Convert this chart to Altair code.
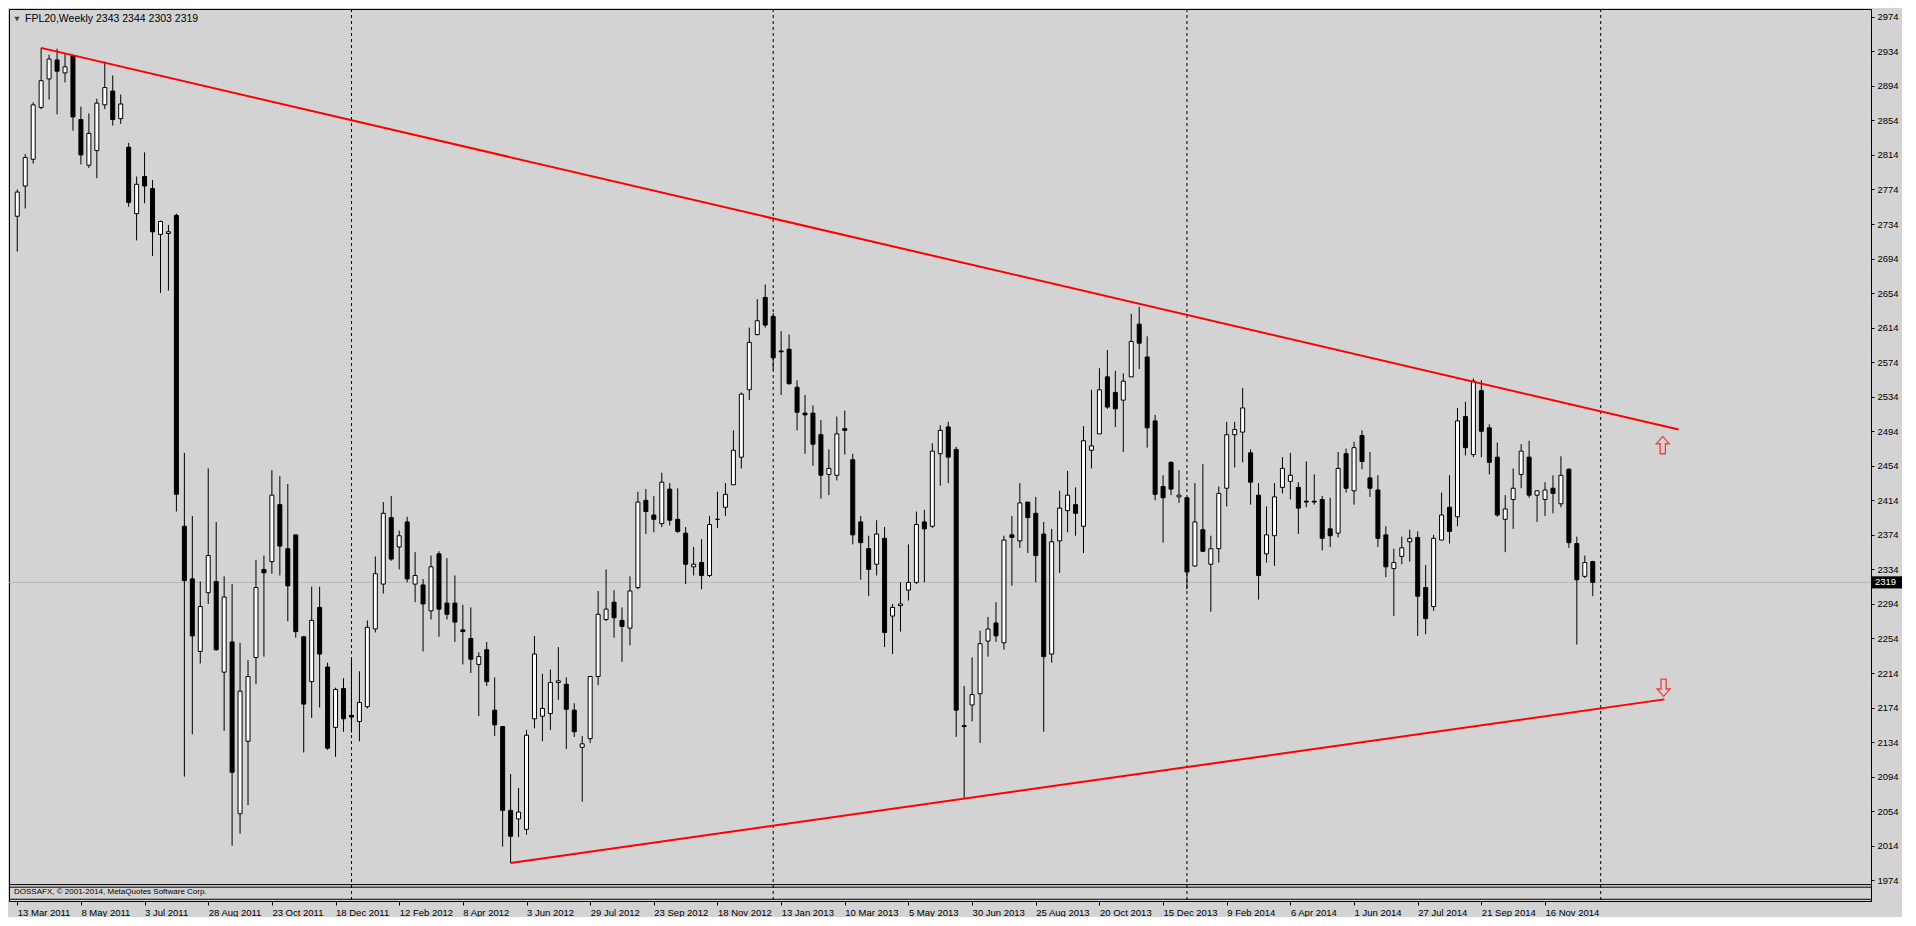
import altair as alt
import pandas as pd
import numpy as np

# Weekly OHLC, 13 Mar 2011 .. 28 Dec 2014
opens = [2743,2778,2809,2869,2902,2924,2909,2929,2855,2802,2819,2872,2888,2856,2823,2746,2789,2775,2722,2723,
         2744,2384,2323,2239,2307,2320,2215,2250,2051,2135,2232,2334,2343,2409,2358,2374,2256,2204,2290,2221,
         2151,2196,2165,2158,2175,2265,2317,2394,2360,2389,2317,2316,2286,2352,2295,2295,2264,2254,2224,2241,
         2171,2152,2055,2045,2033,2161,2164,2167,2203,2201,2171,2128,2138,2210,2276,2296,2275,2266,2313,2414,
         2397,2387,2427,2392,2376,2337,2342,2327,2392,2406,2432,2464,2542,2606,2649,2627,2587,2589,2545,2515,
         2515,2490,2444,2443,2497,2461,2389,2358,2340,2370,2280,2292,2310,2319,2389,2384,2468,2499,2473,2153,
         2177,2190,2251,2272,2249,2374,2367,2412,2399,2375,2236,2367,2402,2409,2384,2472,2491,2557,2539,2530,
         2557,2618,2580,2506,2430,2458,2418,2417,2338,2380,2340,2358,2428,2490,2493,2469,2420,2352,2373,2429,
         2436,2429,2413,2413,2415,2381,2376,2468,2425,2489,2440,2426,2374,2335,2349,2366,2371,2313,2291,2368,
         2406,2395,2511,2467,2541,2498,2464,2392,2415,2444,2464,2420,2415,2428,2410,2450,2364,2326,2343]
highs = [2774,2815,2875,2938,2930,2937,2932,2930,2870,2862,2879,2922,2906,2884,2828,2789,2817,2785,2738,2733,
         2746,2469,2396,2320,2451,2389,2326,2317,2249,2229,2345,2350,2449,2442,2433,2374,2257,2314,2314,2226,
         2197,2208,2231,2216,2275,2349,2412,2419,2379,2395,2354,2323,2350,2355,2347,2327,2293,2290,2238,2250,
         2209,2152,2097,2081,2148,2257,2213,2218,2244,2209,2179,2141,2210,2309,2334,2310,2290,2326,2424,2427,
         2419,2446,2434,2428,2383,2360,2369,2396,2424,2434,2495,2539,2614,2647,2664,2631,2610,2606,2553,2536,
         2524,2507,2473,2511,2518,2468,2396,2373,2391,2383,2294,2319,2363,2401,2403,2480,2501,2505,2476,2199,
         2232,2263,2279,2296,2373,2396,2434,2412,2418,2389,2381,2425,2448,2429,2500,2542,2567,2588,2564,2561,
         2630,2638,2604,2513,2443,2459,2449,2417,2434,2456,2373,2430,2505,2505,2544,2473,2434,2407,2434,2464,
         2469,2435,2459,2444,2419,2417,2470,2474,2482,2495,2470,2443,2384,2358,2372,2380,2378,2339,2374,2423,
         2443,2521,2528,2555,2553,2502,2481,2420,2451,2479,2483,2425,2435,2443,2465,2451,2372,2350,2344]
lows = [2702,2752,2804,2867,2878,2861,2898,2842,2803,2799,2787,2867,2848,2850,2754,2715,2758,2697,2654,2657,
        2401,2094,2143,2225,2294,2240,2147,2014,2028,2061,2201,2233,2329,2327,2274,2255,2122,2162,2174,2125,
        2117,2146,2145,2135,2173,2261,2306,2344,2334,2319,2296,2239,2276,2256,2276,2250,2224,2214,2164,2199,
        2141,2013,1994,2024,2027,2150,2135,2148,2183,2126,2140,2065,2133,2200,2274,2255,2227,2246,2311,2375,
        2377,2383,2385,2376,2317,2327,2311,2325,2382,2396,2432,2451,2530,2605,2614,2565,2536,2548,2495,2468,
        2454,2416,2420,2437,2467,2363,2322,2303,2327,2244,2236,2262,2298,2317,2319,2382,2431,2434,2140,2069,
        2158,2133,2233,2250,2241,2315,2359,2353,2319,2146,2226,2330,2377,2373,2353,2451,2491,2520,2499,2470,
        2557,2566,2475,2414,2365,2420,2411,2311,2337,2354,2285,2342,2407,2452,2458,2409,2299,2342,2338,2422,
        2415,2375,2406,2409,2356,2360,2371,2423,2409,2450,2418,2360,2325,2280,2340,2343,2257,2259,2286,2368,
        2364,2384,2466,2464,2464,2444,2395,2354,2381,2428,2417,2389,2396,2399,2406,2359,2247,2324,2303]
closes = [2771,2811,2872,2900,2925,2911,2916,2858,2814,2839,2874,2892,2855,2873,2759,2780,2778,2725,2737,2725,
          2421,2321,2257,2291,2350,2241,2302,2099,2193,2210,2313,2330,2420,2361,2315,2262,2178,2275,2236,2127,
          2195,2161,2163,2180,2267,2329,2399,2346,2373,2323,2327,2294,2337,2288,2282,2273,2262,2230,2233,2204,
          2154,2055,2025,2053,2142,2236,2173,2203,2205,2172,2146,2132,2210,2282,2288,2278,2268,2309,2412,2401,
          2392,2435,2391,2378,2340,2340,2327,2386,2392,2421,2472,2537,2597,2622,2617,2579,2586,2549,2516,2513,
          2479,2443,2451,2491,2495,2374,2365,2334,2375,2261,2290,2294,2319,2386,2381,2471,2495,2464,2171,2152,
          2189,2248,2265,2257,2368,2371,2411,2394,2350,2233,2366,2405,2420,2399,2483,2477,2542,2522,2520,2552,
          2598,2596,2498,2421,2417,2427,2420,2331,2389,2355,2358,2422,2490,2496,2521,2435,2327,2374,2418,2451,
          2443,2405,2412,2412,2370,2373,2451,2428,2475,2459,2428,2370,2337,2342,2359,2370,2303,2277,2370,2397,
          2378,2506,2475,2552,2494,2458,2397,2404,2428,2471,2420,2425,2426,2422,2443,2365,2322,2342,2319]

date_labels = ["13 Mar 2011", "8 May 2011", "3 Jul 2011", "28 Aug 2011", "23 Oct 2011", "18 Dec 2011",
               "12 Feb 2012", "8 Apr 2012", "3 Jun 2012", "29 Jul 2012", "23 Sep 2012", "18 Nov 2012",
               "13 Jan 2013", "10 Mar 2013", "5 May 2013", "30 Jun 2013", "25 Aug 2013", "20 Oct 2013",
               "15 Dec 2013", "9 Feb 2014", "6 Apr 2014", "1 Jun 2014", "27 Jul 2014", "21 Sep 2014",
               "16 Nov 2014"]
date_positions = [8 * k for k in range(len(date_labels))]
price_ticks = list(range(1974, 2975, 40))
separators = [42, 95, 147, 199]

trend_i = [3, 208.8, 62, 207]
trend_p = [2938, 2496, 1994, 2183.5]
trend_g = ["upper", "upper", "lower", "lower"]

arrow_up = (206.8, 2478)
arrow_dn = (206.9, 2197)
last_price = 2319

W, H = 1862, 892
BG = "#D3D3D3"
FONT = "Liberation Sans"

n = len(opens)
df = pd.DataFrame({"i": np.arange(n), "open": opens, "high": highs, "low": lows, "close": closes})
df["dir"] = np.where(df["close"] >= df["open"], "up", "down")

xs = alt.Scale(domain=[-0.41, -0.41 + W / 8.0], zero=False, nice=False)
ys = alt.Scale(domain=[1950, 2983], zero=False, nice=False)

label_arr = "[" + ",".join("'%s'" % s for s in date_labels) + "]"
xax = alt.Axis(values=date_positions, labelExpr=label_arr + "[round(datum.value/8)]",
               labelAlign="left", labelPadding=2, tickSize=4, tickColor="black",
               domainColor="black", labelFont=FONT, labelFontSize=9.5, labelColor="black",
               grid=False, title=None, labelFlush=False, labelOverlap=False)
yax = alt.Axis(orient="right", values=price_ticks, tickSize=3, tickColor="black",
               domainColor="black", labelFont=FONT, labelFontSize=9.5, labelColor="black",
               labelPadding=3, grid=False, title=None, format="d")


def X(f):
    return alt.X(f, type="quantitative", scale=xs, axis=xax)


def Y(f):
    return alt.Y(f, type="quantitative", scale=ys, axis=yax)


base = alt.Chart(df)

sep_df = pd.DataFrame({"i": separators})
seps = alt.Chart(sep_df).mark_rule(color="black", strokeDash=[3, 3], strokeWidth=1).encode(x=X("i"))

pl_df = pd.DataFrame({"p": [last_price]})
pline = alt.Chart(pl_df).mark_rule(color="#B5B5B5", strokeWidth=1).encode(y=Y("p"))

wicks = base.mark_rule(color="black", strokeWidth=1).encode(x=X("i"), y=Y("low"), y2="high")
bodies = base.mark_bar(size=4, stroke="black", strokeWidth=1).encode(
    x=X("i"), y=Y("open"), y2="close",
    fill=alt.Fill("dir:N", scale=alt.Scale(domain=["up", "down"], range=["white", "black"]), legend=None))

tr_df = pd.DataFrame({"i": trend_i, "p": trend_p, "g": trend_g})
trend = alt.Chart(tr_df).mark_line(color="#FF0000", strokeWidth=2).encode(x=X("i"), y=Y("p"), detail="g:N")

up_path = "M0,-1L0.75,-0.15L0.3,-0.15L0.3,1L-0.3,1L-0.3,-0.15L-0.75,-0.15Z"
dn_path = "M0,1L0.75,0.15L0.3,0.15L0.3,-1L-0.3,-1L-0.3,0.15L-0.75,0.15Z"
au = alt.Chart(pd.DataFrame({"i": [arrow_up[0]], "p": [arrow_up[1]]})).mark_point(
    shape=up_path, size=300, filled=False, stroke="#FF0000", strokeWidth=1.3).encode(x=X("i"), y=Y("p"))
ad = alt.Chart(pd.DataFrame({"i": [arrow_dn[0]], "p": [arrow_dn[1]]})).mark_point(
    shape=dn_path, size=300, filled=False, stroke="#FF0000", strokeWidth=1.3).encode(x=X("i"), y=Y("p"))

# bottom strip (sub-window)
strip_df = pd.DataFrame({"p": [1969, 1966, 1952]})
strip = alt.Chart(strip_df).mark_rule(color="black", strokeWidth=1).encode(y=Y("p"))
strip_txt = alt.Chart(pd.DataFrame({"t": ["DOSSAFX, \u00a9 2001-2014, MetaQuotes Software Corp."], "p": [1961]})).mark_text(
    align="left", baseline="middle", font=FONT, fontSize=8, color="black").encode(
    x=alt.value(5), y=Y("p"), text="t:N")

# header
tri = alt.Chart(pd.DataFrame({"a": [1]})).mark_point(shape="triangle-down", size=28, filled=True, color="black").encode(
    x=alt.value(8), y=alt.value(10))
head = alt.Chart(pd.DataFrame({"t": ["FPL20,Weekly  %d %d %d %d" % (opens[-1], highs[-1], lows[-1], closes[-1])]})).mark_text(
    align="left", baseline="middle", font=FONT, fontSize=10.5, color="black").encode(
    x=alt.value(16), y=alt.value(10), text="t:N")

# last price box on the axis
box_df = pd.DataFrame({"p1": [last_price + 7], "p2": [last_price - 7], "p": [last_price], "t": [str(last_price)]})
pbox = alt.Chart(box_df).mark_rect(color="black").encode(x=alt.value(W + 1), x2=alt.value(W + 31), y=Y("p1"), y2="p2")
ptxt = alt.Chart(box_df).mark_text(align="left", baseline="middle", font=FONT, fontSize=9.5, color="white").encode(
    x=alt.value(W + 4), y=Y("p"), text="t:N")

chart = alt.layer(seps, pline, strip, wicks, bodies, trend, au, ad, strip_txt, tri, head, pbox, ptxt).properties(
    width=W, height=H, padding=0, background=BG
).configure_view(fill=BG, stroke="black", strokeWidth=1)

chart.save("out.html", embed_options={"renderer": "svg", "actions": False})
